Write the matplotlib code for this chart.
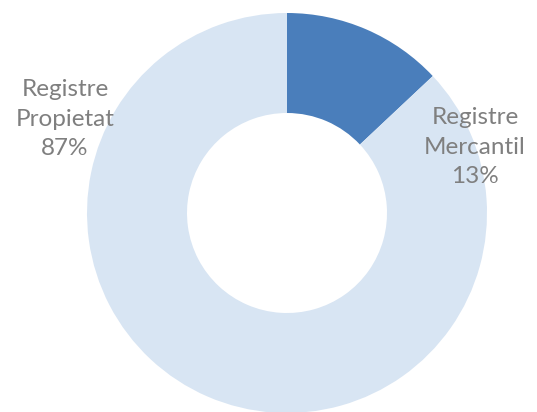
import matplotlib
matplotlib.use("Agg")
import matplotlib.pyplot as plt

labels = ["Registre\nMercantil", "Registre\nPropietat"]
shares = [13, 87]
colors = ["#4a7ebb", "#d8e5f3"]

W, H = 537, 412
fig = plt.figure(figsize=(W / 100, H / 100), dpi=100)
ax = fig.add_axes([0, 0, 1, 1])

cx, cy, r = 287, H - 213, 200
ax.pie(
    shares,
    colors=colors,
    startangle=90,
    counterclock=False,
    center=(cx, cy),
    radius=r,
    wedgeprops=dict(width=r / 2, linewidth=0),
    frame=True,
)
ax.set_xlim(0, W)
ax.set_ylim(0, H)
ax.set_aspect("equal")
ax.axis("off")

label_pos = [(475, H - 147), (65, H - 119)]
for lab, val, (x, y) in zip(labels, shares, label_pos):
    ax.text(x, y, f"{lab}\n{val}%", ha="center", va="center",
            fontsize=17.5, color="#7f7f7f", family="Lato", linespacing=1.5)

fig.savefig("out.png", dpi=100)
